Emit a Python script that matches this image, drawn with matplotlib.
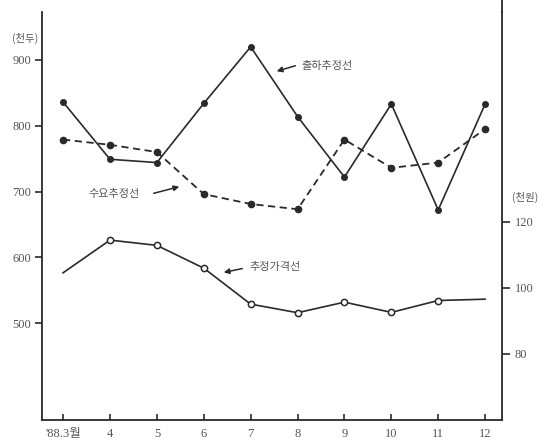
import matplotlib
matplotlib.use("Agg")
import matplotlib.pyplot as plt
from matplotlib.lines import Line2D
from matplotlib.patches import FancyArrowPatch

# ---- data ----
months = ["'88.3월", "4", "5", "6", "7", "8", "9", "10", "11", "12"]
shipment = [836, 749, 744, 834, 920, 814, 722, 833, 672, 833]   # 출하추정선 (천두)
demand = [779, 771, 760, 696, 681, 673, 779, 736, 744, 795]     # 수요추정선 (천두)
price = [104.6, 114.5, 112.9, 106.0, 95.1, 92.5, 95.7, 92.6, 96.2, 96.6]  # 추정가격선 (천원)
left_ticks = [500, 600, 700, 800, 900]
right_ticks = [80, 100, 120]

fam = ['Liberation Serif', 'Noto Sans CJK KR', 'DejaVu Sans']
kfam = ['Noto Sans CJK KR', 'DejaVu Sans']
ink = '#2a2a2a'
txt = '#555555'

W, H = 546, 445
fig = plt.figure(figsize=(W/100, H/100), dpi=100)
ax = fig.add_axes([42/W, 1-420/H, (502-42)/W, (420-12)/H])
ax2 = ax.twinx()

x = list(range(len(months)))
ax.plot(x, shipment, color=ink, lw=1.2, marker='o', ms=4, mfc=ink, mec=ink, zorder=3)
ax.plot(x, demand, color=ink, lw=1.3, dashes=(4, 2.5), marker='o', ms=4.5, mfc=ink, mec=ink, zorder=3)
ax2.plot(x, price, color=ink, lw=1.2, zorder=3)
ax2.plot(x[1:-1], price[1:-1], ls='none', marker='o', ms=4.5, mfc='white', mec=ink, mew=1.1, zorder=4)

ax.set_xlim(-0.45, 9.36)
ax.set_ylim(352.5, 973)
ax2.set_ylim(60, 183.6)

ax.set_yticks(left_ticks)
ax.set_yticklabels([str(v) for v in left_ticks], fontfamily=fam, fontsize=9, color=txt)
ax2.set_yticks(right_ticks)
ax2.set_yticklabels([str(v) for v in right_ticks], fontfamily=fam, fontsize=9, color=txt)
ax.set_xticks(x)
ax.set_xticklabels(months, fontfamily=fam, fontsize=9, color=txt)

ax.tick_params(axis='y', direction='out', length=5, width=1.2, color=ink, pad=3)
ax2.tick_params(axis='y', direction='out', length=6, width=1.2, color=ink, pad=3)
ax.tick_params(axis='x', direction='in', length=4, width=1.2, color=ink, pad=6)

for a in (ax, ax2):
    a.spines['top'].set_visible(False)
    for s in ('left', 'right', 'bottom'):
        a.spines[s].set_color(ink)
        a.spines[s].set_linewidth(1.3)
ax2.spines['left'].set_visible(False)
ax2.spines['bottom'].set_visible(False)
ax.spines['right'].set_visible(False)

# right axis line continues to the top edge
fig.add_artist(Line2D([502/W, 502/W], [1-12/H, 1.0], transform=fig.transFigure, color=ink, lw=1.3))

fig.text(25/W, 1-38/H, "(천두)", fontfamily=kfam, fontsize=7.5, color=txt, ha='center', va='center')
fig.text(525/W, 1-197/H, "(천원)", fontfamily=kfam, fontsize=7.5, color=txt, ha='center', va='center')

arrows = [
    ("출하추정선", (301, 66), (298, 65), (274, 72)),
    ("수요추정선", (88, 194), (151, 194), (182, 186)),
    ("추정가격선", (249, 267), (245, 268), (221, 273)),
]
for t, tp, a0, a1 in arrows:
    fig.text(tp[0]/W, 1-tp[1]/H, t, fontfamily=kfam, fontsize=8, color=txt, ha='left', va='center')
    fig.add_artist(FancyArrowPatch(
        (a0[0]/W, 1-a0[1]/H), (a1[0]/W, 1-a1[1]/H), transform=fig.transFigure,
        arrowstyle='-|>', mutation_scale=8, color=ink, lw=1.1))

fig.savefig("out.png", dpi=100, facecolor='white')
